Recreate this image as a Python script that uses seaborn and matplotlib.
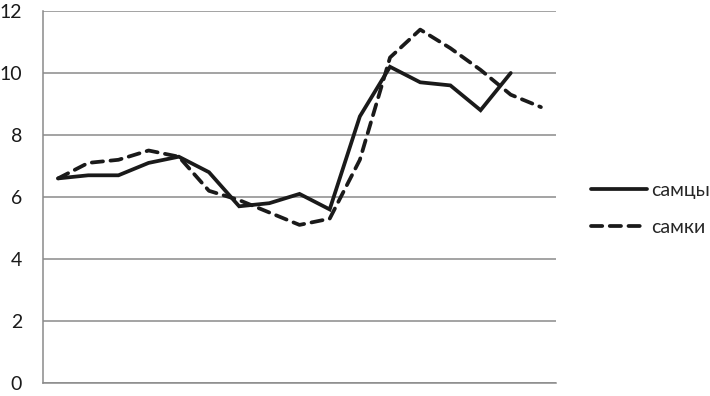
import numpy as np
import pandas as pd
import matplotlib
matplotlib.use("Agg")
import matplotlib.pyplot as plt
import seaborn as sns

# ==========================================
# DATA
# ==========================================
males = [6.6, 6.7, 6.7, 7.1, 7.3, 6.8, 5.7, 5.8, 6.1, 5.6, 8.6, 10.2, 9.7, 9.6, 8.8, 10.0]
females = [6.6, 7.1, 7.2, 7.5, 7.3, 6.2, 5.9, 5.5, 5.1, 5.3, 7.2, 10.5, 11.4, 10.8, 10.1, 9.3, 8.9]
labels = ["самцы", "самки"]
y_ticks = [0, 2, 4, 6, 8, 10, 12]
n_cat = 17

sns.set_theme(style="white")
plt.rcParams['font.family'] = ['Lato', 'DejaVu Sans']

fig = plt.figure(figsize=(7.1, 3.96), dpi=100)
ax = fig.add_axes([43 / 710, 13 / 396, (556 - 43) / 710, (383 - 11) / 396])

df_m = pd.DataFrame({"x": np.arange(len(males)), "y": males})
df_f = pd.DataFrame({"x": np.arange(len(females)), "y": females})

sns.lineplot(data=df_m, x="x", y="y", ax=ax, color="#1a1a1a", linewidth=2.7,
             label=labels[0], solid_joinstyle="miter")
sns.lineplot(data=df_f, x="x", y="y", ax=ax, color="#1a1a1a", linewidth=2.7,
             label=labels[1], dashes=False)
ax.lines[-1].set_dashes([3.0, 2.0])
ax.lines[-1].set_dash_capstyle("round")

# --- axes styling ---
ax.set_xlim(-0.5, n_cat - 0.5)
ax.set_ylim(0, 12)
ax.set_yticks(y_ticks)
ax.set_yticklabels([str(t) for t in y_ticks], fontsize=14)
ax.set_xticks(np.arange(-0.5, n_cat, 1.0))
ax.set_xticklabels([])
ax.set_xlabel("")
ax.set_ylabel("")
ax.yaxis.grid(True, color="#8a8a8a", linewidth=1.1)
ax.set_axisbelow(True)
ax.tick_params(axis="both", which="both", length=5, width=1, color="#8a8a8a",
               direction="out", pad=10, labelcolor="#1a1a1a")
ax.tick_params(axis="x", length=6)
for s in ["top", "right"]:
    ax.spines[s].set_visible(False)
for s in ["left", "bottom"]:
    ax.spines[s].set_color("#8a8a8a")
    ax.spines[s].set_linewidth(1.1)

leg = ax.legend(loc="center left", bbox_to_anchor=(591 / 710, (396 - 209) / 396),
                bbox_transform=fig.transFigure, frameon=False, borderpad=0,
                borderaxespad=0, fontsize=14, handlelength=2.9, labelspacing=1.0,
                handletextpad=0.2)

plt.savefig("out.png", dpi=100)
plt.close()
